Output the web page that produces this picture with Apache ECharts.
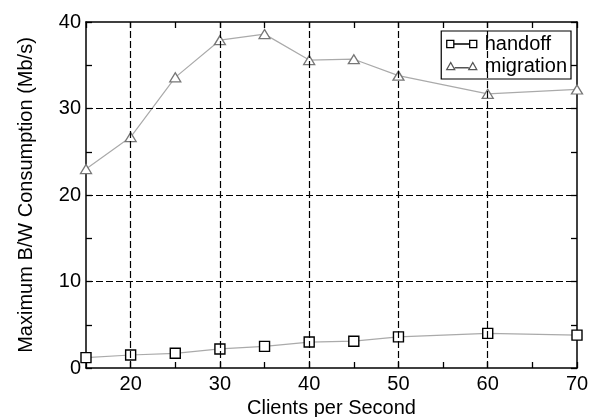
<!DOCTYPE html>
<html><head><meta charset="utf-8">
<script src="https://cdn.jsdelivr.net/npm/echarts@6/dist/echarts.min.js"></script>
<style>html,body{margin:0;padding:0;background:#fff}#c{width:596px;height:417px}</style>
</head><body><div id="c"></div>
<script>
const clients = [15, 20, 25, 30, 35, 40, 45, 50, 60, 70];
const handoff = [1.2, 1.5, 1.7, 2.2, 2.5, 3.0, 3.1, 3.6, 4.0, 3.8];
const migration = [23.0, 26.7, 33.6, 37.9, 38.6, 35.6, 35.7, 33.8, 31.7, 32.2];
const xGrid = [20, 30, 40, 50, 60];
const yGrid = [10, 20, 30];
const xTitle = 'Clients per Second';
const yTitle = 'Maximum B/W Consumption (Mb/s)';

const font = 'Liberation Sans, Arial, sans-serif';
const chart = echarts.init(document.getElementById('c'), null, {renderer: 'canvas'});
const axisCommon = {
  type: 'value',
  axisLine: {show: true, onZero: false, lineStyle: {color: '#000', width: 1.5}},
  axisTick: {show: true, inside: true, length: 6, lineStyle: {color: '#000', width: 1.3}},
  splitLine: {show: false},
  axisLabel: {color: '#000', fontSize: 20, fontFamily: font,
    formatter: v => (v % 10 === 0 ? String(v) : '')}
};
const dash = {color: '#000', type: [7, 3], width: 1.2};
chart.setOption({
  animation: false,
  backgroundColor: '#fff',
  grid: {left: 86, right: 19, top: 22, bottom: 49, containLabel: false, outerBoundsMode: 'none'},
  xAxis: [
    Object.assign({}, axisCommon, {min: 15, max: 70, interval: 5, position: 'bottom',
      name: xTitle, nameLocation: 'middle', nameGap: 25,
      nameTextStyle: {color: '#000', fontSize: 20, fontFamily: font},
      axisLabel: Object.assign({}, axisCommon.axisLabel, {margin: 6})}),
    Object.assign({}, axisCommon, {min: 15, max: 70, interval: 5, position: 'top',
      axisLabel: {show: false}})
  ],
  yAxis: [
    Object.assign({}, axisCommon, {min: 0, max: 40, interval: 5, position: 'left',
      name: yTitle, nameLocation: 'middle', nameGap: 50,
      nameTextStyle: {color: '#000', fontSize: 20, fontFamily: font},
      axisLabel: Object.assign({}, axisCommon.axisLabel, {margin: 5})}),
    Object.assign({}, axisCommon, {min: 0, max: 40, interval: 5, position: 'right',
      axisLabel: {show: false}})
  ],
  legend: {
    orient: 'vertical', right: 25, top: 31,
    backgroundColor: '#fff', borderColor: '#000', borderWidth: 1.2,
    padding: [3, 4, 3, 3], itemGap: 2, itemWidth: 30, itemHeight: 11,
    textStyle: {color: '#000', fontSize: 20, fontFamily: font, padding: [0, 0, 0, 3]},
    data: [
      {name: 'handoff', icon: 'path://M0,2 h8 v8 h-8 Z M8,6 H26 M26,2 h8 v8 h-8 Z',
        itemStyle: {color: 'none', borderColor: '#000', borderWidth: 1.3}},
      {name: 'migration', icon: 'path://M0,10 L4.5,2 L9,10 Z M9,8 H25 M25,10 L29.5,2 L34,10 Z',
        itemStyle: {color: 'none', borderColor: '#555', borderWidth: 1.3}}
    ]
  },
  series: [
    {
      type: 'line', name: 'grid', data: [], z: 1, silent: true,
      markLine: {
        silent: true, symbol: ['none', 'none'], label: {show: false},
        lineStyle: dash, animation: false,
        data: xGrid.map(v => ({xAxis: v})).concat(yGrid.map(v => ({yAxis: v})))
      }
    },
    {
      type: 'line', name: 'handoff', z: 3,
      data: clients.map((c, i) => [c, handoff[i]]),
      symbol: 'rect', symbolSize: 10,
      lineStyle: {color: '#aaa', width: 1.2},
      itemStyle: {color: '#fff', borderColor: '#000', borderWidth: 1.4}
    },
    {
      type: 'line', name: 'migration', z: 3,
      data: clients.map((c, i) => [c, migration[i]]),
      symbol: 'triangle', symbolSize: [11, 9],
      lineStyle: {color: '#aaa', width: 1.2},
      itemStyle: {color: '#fff', borderColor: '#777', borderWidth: 1.3}
    }
  ]
});
</script></body></html>
